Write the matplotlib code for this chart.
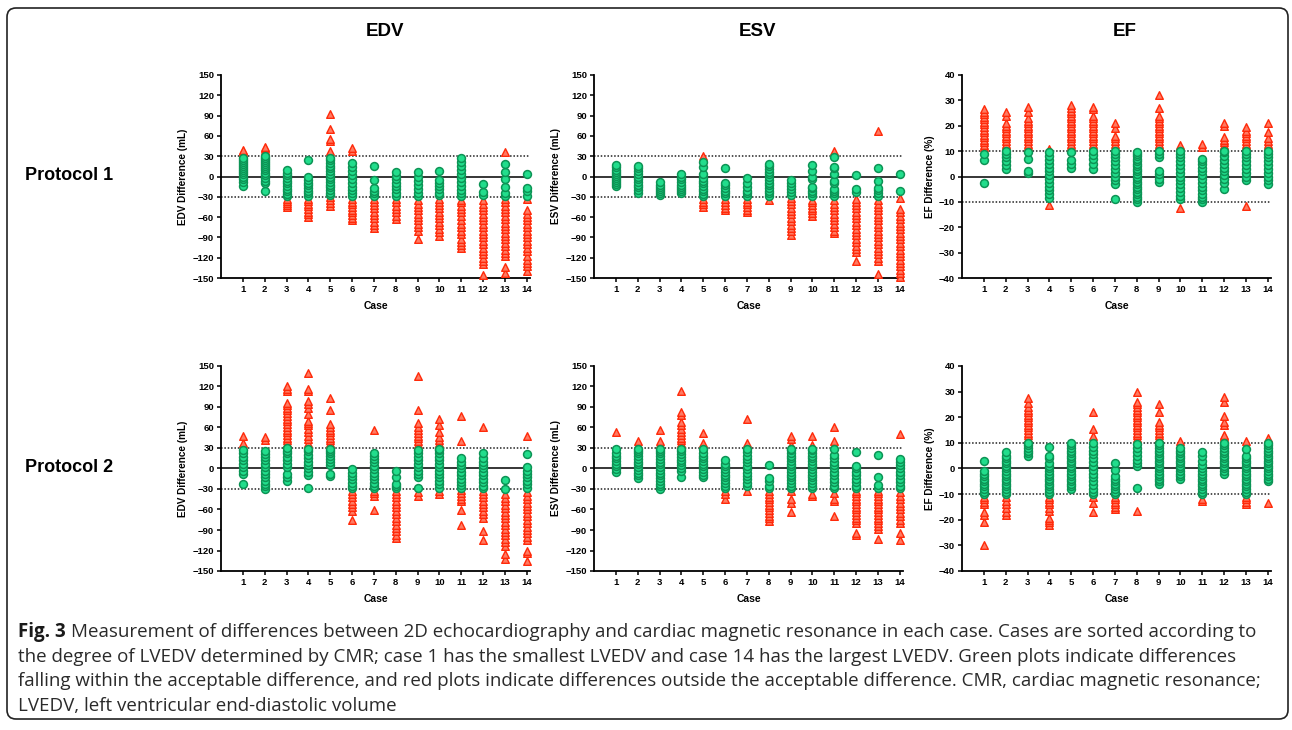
import matplotlib
matplotlib.use("Agg")
import matplotlib.pyplot as plt
import numpy as np
from matplotlib.patches import FancyBboxPatch

# --- data: per-case differences (echo - CMR) ---
cases = list(range(1, 15))

p1_edv = [
    [-14, -8, -3, 0, 3, 6, 9, 12, 15, 18, 22, 25, 28, 31, 33, 35, 37, 39],
    [-21, -10, -6, -2, 2, 5, 9, 12, 15, 18, 21, 24, 27, 30, 33, 36, 39, 42, 44],
    [-45, -42, -39, -36, -33, -29, -26, -22, -18, -14, -10, -6, -2, 2, 5, 9],
    [-60, -56, -52, -48, -44, -40, -36, -33, -29, -25, -21, -17, -13, -9, -5, -1, 24],
    [-43, -39, -35, -31, -28, -24, -20, -16, -12, -8, -4, 0, 4, 8, 12, 16, 20, 24, 28, 33, 38, 52, 55, 70, 92],
    [-65, -61, -57, -53, -49, -45, -41, -37, -33, -29, -25, -20, -15, -10, -4, 2, 8, 14, 20, 38, 42],
    [-76, -72, -67, -62, -57, -52, -47, -42, -37, -33, -29, -25, -21, -17, -5, 16],
    [-63, -58, -53, -48, -43, -38, -33, -29, -24, -19, -14, -9, -4, 1, 6],
    [-93, -80, -75, -70, -65, -60, -55, -50, -45, -40, -35, -29, -24, -18, -12, -6, 0, 6],
    [-88, -82, -77, -72, -67, -62, -57, -52, -47, -42, -37, -33, -28, -24, -19, -14, -9, -5, 8],
    [-105, -101, -97, -93, -85, -80, -75, -70, -64, -58, -53, -48, -43, -38, -34, -29, -25, -20, -14, -8, -2, 4, 10, 16, 22, 27],
    [-146, -130, -125, -120, -115, -110, -105, -100, -95, -90, -85, -80, -75, -70, -65, -60, -55, -50, -45, -40, -35, -28, -23, -11],
    [-142, -134, -118, -113, -108, -103, -98, -93, -88, -83, -78, -73, -68, -63, -58, -53, -48, -43, -38, -33, -29, -24, -15, -3, 6, 18, 36],
    [-140, -133, -128, -123, -118, -110, -105, -100, -95, -90, -85, -80, -75, -70, -65, -60, -55, -50, -33, -29, -22, -17, 4],
]

p1_esv = [
    [-14, -11, -8, -5, -2, 1, 4, 7, 10, 14, 17],
    [-24, -20, -16, -12, -8, -4, 0, 4, 8, 12, 16],
    [-28, -25, -22, -19, -16, -12, -8],
    [-25, -22, -19, -16, -12, -8, -4, 0, 4],
    [-45, -41, -37, -33, -29, -26, -22, -18, -14, -10, -6, -2, 3, 14, 22, 31],
    [-50, -46, -42, -38, -33, -29, -25, -21, -17, -13, -9, 12],
    [-53, -49, -45, -41, -37, -33, -29, -25, -21, -16, -10, -2],
    [-34, -29, -25, -21, -17, -13, -9, -5, -1, 3, 7, 11, 15, 18],
    [-86, -81, -76, -71, -66, -61, -56, -51, -46, -41, -36, -32, -27, -23, -19, -14, -9, -5],
    [-58, -54, -50, -46, -42, -38, -34, -29, -25, -21, -17, -15, -3, 0, 8, 17],
    [-84, -80, -75, -70, -65, -60, -55, -50, -45, -40, -35, -29, -25, -21, -18, -10, -7, 3, 12, 14, 29, 38],
    [-125, -112, -107, -102, -97, -92, -87, -82, -77, -72, -67, -62, -57, -52, -47, -42, -37, -33, -23, -18, 2],
    [-144, -125, -120, -115, -110, -105, -100, -95, -90, -85, -80, -75, -70, -65, -60, -55, -50, -45, -40, -35, -29, -25, -20, -17, -6, 12, 67],
    [-148, -143, -138, -133, -128, -123, -118, -113, -108, -103, -98, -93, -88, -83, -78, -73, -68, -63, -58, -53, -48, -32, -21, 4],
]

p1_ef = [
    [-2.7, 6.4, 9, 10.5, 11.5, 12.5, 13.5, 14.5, 15.5, 16.5, 17.5, 18.5, 19.5, 20.5, 21.5, 22.5, 23.5, 24.5, 25.5, 26.5],
    [3, 4.5, 6, 7.5, 9, 10, 11, 12, 13, 14, 15, 16, 17, 18, 19, 20, 21, 24, 25.5],
    [1.2, 2, 7, 9.5, 10.8, 12, 13, 14, 15, 16, 17, 18, 19, 20, 21, 22, 23, 25.5, 27.5],
    [-11.3, -8.5, -7, -5.5, -4, -2.5, -1, 0.5, 2, 3.5, 5, 6.5, 8, 9.5, 10.8],
    [3.5, 5, 6.5, 9.5, 10.8, 12, 13, 14, 15, 16, 17, 18, 19, 20, 21, 22, 23, 24, 25, 26, 27, 28],
    [3, 5, 7, 8.5, 10, 11, 12, 13, 14, 15, 16, 17, 18, 19, 20, 21, 22, 23, 24, 26.5, 27.5],
    [-9, -2.8, -1.5, 0, 1.5, 3, 4.5, 6, 7.5, 9, 10, 11.5, 13, 14, 15, 16, 19, 21],
    [-10, -9, -8, -7, -6, -5, -4, -3, -2, -1, 0, 1, 2, 3, 4, 5, 6, 7, 8, 9, 9.8],
    [-2, -1, 1, 2, 7.5, 9, 10, 11, 12, 13, 14, 15, 16, 17, 18, 19, 20, 21, 22, 23, 24, 27, 32],
    [-12.5, -9, -7.5, -6, -4.5, -3, -1.5, 0, 1.5, 3, 4.5, 6, 7.5, 9, 10, 12.5],
    [-10, -9, -8, -7, -5.5, -4, -2.5, -1, 0.5, 2, 3.5, 5, 6, 7, 11.5, 12.8],
    [-5, -2.5, -1, 0.5, 2, 3.5, 5, 6.5, 8, 9.5, 10, 11.5, 12.5, 13.5, 14.5, 15.5, 20, 21],
    [-11.5, -1.5, 0, 1.5, 3, 4.5, 6, 7.5, 9, 10, 11, 12, 13, 14, 15, 16, 17, 18, 19.5],
    [-3, -1.5, 0, 1.5, 3, 4.5, 6, 7.5, 9, 10, 11, 12, 13, 14, 15, 17.5, 21],
]

p2_edv = [
    [-22, -8, -3, 2, 7, 12, 17, 22, 27, 33, 37, 47],
    [-30, -26, -22, -18, -13, -8, -3, 2, 7, 12, 17, 21, 25, 41, 46],
    [-18, -13, -8, 2, 7, 12, 17, 22, 26, 30, 33, 37, 41, 45, 49, 53, 57, 61, 65, 69, 73, 77, 81, 85, 89, 93, 96, 113, 117, 121],
    [-29, -10, -5, 0, 5, 10, 15, 20, 25, 28, 33, 38, 43, 48, 53, 58, 63, 67, 70, 80, 88, 94, 99, 113, 116, 140],
    [-11, -8, 5, 10, 14, 18, 22, 26, 29, 33, 37, 41, 45, 49, 53, 57, 61, 65, 85, 103],
    [-76, -62, -57, -52, -47, -42, -37, -33, -29, -25, -21, -16, -11, -6, -1],
    [-61, -40, -36, -33, -29, -25, -21, -16, -11, -6, -1, 4, 9, 14, 18, 22, 57],
    [-101, -97, -92, -87, -82, -77, -72, -67, -62, -57, -52, -47, -42, -37, -33, -29, -26, -22, -13, -4],
    [-40, -35, -28, -12, -8, -3, 2, 7, 12, 17, 22, 27, 32, 36, 40, 44, 48, 52, 56, 61, 66, 86, 136],
    [-37, -33, -28, -23, -18, -13, -8, -3, 2, 7, 12, 17, 22, 27, 29, 33, 37, 41, 46, 53, 64, 73],
    [-82, -61, -48, -44, -40, -36, -32, -28, -24, -20, -15, -10, -5, 0, 5, 10, 15, 40, 77],
    [-105, -92, -72, -67, -62, -57, -52, -47, -42, -37, -33, -29, -25, -20, -15, -10, -5, 0, 5, 10, 15, 22, 60],
    [-132, -125, -113, -108, -103, -98, -93, -88, -83, -78, -73, -68, -63, -58, -53, -48, -43, -38, -30, -17],
    [-135, -124, -120, -105, -100, -95, -90, -85, -80, -75, -70, -65, -60, -55, -50, -45, -40, -35, -28, -23, -18, -13, -8, -3, 2, 21, 47],
]

p2_esv = [
    [-5, -1, 3, 7, 11, 15, 19, 23, 28, 54],
    [-14, -10, -6, -2, 2, 6, 10, 14, 18, 22, 26, 29, 40],
    [-30, -26, -22, -18, -14, -10, -6, -2, 2, 6, 10, 14, 18, 22, 26, 29, 33, 36, 40, 56],
    [-13, -3, 1, 5, 9, 13, 17, 21, 25, 29, 33, 37, 41, 45, 49, 53, 58, 63, 68, 78, 82, 114],
    [-12, -9, -5, -1, 3, 7, 11, 15, 19, 23, 28, 32, 35, 38, 52],
    [-44, -38, -33, -29, -25, -21, -17, -13, -9, -5, -1, 3, 7, 12],
    [-33, -25, -21, -16, -11, -6, -1, 4, 9, 14, 19, 24, 29, 32, 35, 38, 72],
    [-77, -73, -69, -65, -61, -57, -53, -49, -45, -41, -37, -33, -29, -25, -19, -14, 5],
    [-63, -50, -45, -33, -29, -25, -21, -17, -13, -9, -5, -1, 3, 7, 11, 15, 19, 23, 27, 29, 35, 43, 47],
    [-40, -37, -29, -25, -21, -17, -13, -9, -5, -1, 3, 7, 11, 15, 19, 23, 27, 29, 32, 35, 48],
    [-70, -48, -45, -36, -29, -25, -20, -15, -10, -5, 0, 5, 10, 15, 20, 29, 40, 60],
    [-97, -94, -80, -76, -72, -68, -64, -60, -56, -52, -48, -44, -40, -36, -33, -29, -25, -20, -15, -10, -5, 0, 3, 24],
    [-103, -88, -84, -80, -76, -72, -68, -64, -60, -56, -52, -48, -44, -40, -36, -33, -29, -24, -12, 20],
    [-104, -94, -80, -75, -70, -65, -60, -55, -50, -45, -40, -35, -29, -25, -20, -15, -10, -5, 0, 5, 10, 14, 50],
]

p2_ef = [
    [-30, -21, -18, -17, -14, -13, -12, -11, -10, -9, -8, -7, -6, -5, -4, -3, -2, -1, 3],
    [-18, -17, -15.5, -14, -12.5, -11, -10, -9, -8, -7, -6, -5, -4, -3, -2, -1, 0, 1, 2, 3, 4, 5, 6.5],
    [5, 6, 7, 8, 9, 10, 11, 12, 13, 14, 15, 16, 17, 18, 19, 20, 21, 22, 23, 24, 25.5, 27.5],
    [-22, -21, -20, -19.5, -16.5, -15.5, -14, -13, -12, -11, -10, -9, -8, -7, -6, -5, -4, -3, -2, -1, 0, 1, 2, 4, 5, 8.5],
    [-8, -7, -6, -5, -4, -3, -2, -1, 0, 1, 2, 3, 4, 5, 6, 7, 8, 9, 10],
    [-17, -13.5, -11, -10, -9, -8, -6.5, -5, -3.5, -2, -0.5, 1, 2.5, 4, 5.5, 7, 8.5, 10, 12.5, 15.5, 22],
    [-16, -15, -14, -13, -12, -11, -10, -9, -8, -7, -6, -5, -4, -3, -0.5, 2],
    [-16.5, -7.5, 1, 2, 3.5, 5, 6.5, 8, 9.5, 11, 12, 13, 14, 15, 16, 17, 18, 19, 20, 21, 22, 23, 24, 25, 26, 30],
    [-6, -5, -4, -3, -2, -1, 0, 1, 2, 3, 4, 5, 6, 7, 8, 9, 10, 11, 12, 13, 14, 15, 16, 17, 18, 22, 25],
    [-4, -3, -2, -1, 0, 1, 2, 3, 4, 5, 6, 7, 8, 10.8],
    [-12.5, -12, -10, -9, -8, -7, -6, -5, -4, -3, -2, -1, 0, 1.5, 3, 5, 6.5],
    [-2, -1, 0, 1, 2, 3, 4, 5, 6, 7, 8, 9, 10, 11, 11.8, 12.5, 13, 17, 18, 20.5, 26, 28],
    [-14, -13, -12, -11, -10, -9, -8, -7, -6, -5, -4, -3, -2, -1, 0, 1, 2, 3, 4, 5, 7.5, 10.8],
    [-13.5, -5, -4, -3, -2, -1, 0, 1, 2, 3, 4, 5, 6, 7, 8, 9, 10, 12],
]

col_titles = ["EDV", "ESV", "EF"]
row_titles = ["Protocol 1", "Protocol 2"]
ylabels = ["EDV Difference (mL)", "ESV Difference (mL)", "EF Difference (%)"]
limits = [30, 30, 10]   # acceptable difference

caption = [
    "Measurement of differences between 2D echocardiography and cardiac magnetic resonance in each case. Cases are sorted according to",
    "the degree of LVEDV determined by CMR; case 1 has the smallest LVEDV and case 14 has the largest LVEDV. Green plots indicate differences",
    "falling within the acceptable difference, and red plots indicate differences outside the acceptable difference. CMR, cardiac magnetic resonance;",
    "LVEDV, left ventricular end-diastolic volume",
]

W, H = 1292, 730
fig = plt.figure(figsize=(W / 100, H / 100), dpi=100)
plt.rcParams['font.family'] = ['Liberation Sans', 'DejaVu Sans']

GREEN_FC, GREEN_EC = '#22dd8c', '#0c9455'
RED_FC, RED_EC = '#ff7a62', '#ff2a0a'

panels = [[p1_edv, p1_esv, p1_ef], [p2_edv, p2_esv, p2_ef]]
col_left = [221, 594, 962]
row_top = [75, 366]
row_bot = [278, 571]
ax_w = 309

for r in range(2):
    for c in range(3):
        ax = fig.add_axes([col_left[c] / W, 1 - row_bot[r] / H, ax_w / W, (row_bot[r] - row_top[r]) / H])
        lim = limits[c]
        data = panels[r][c]
        for x, vals in zip(cases, data):
            v = np.array(vals, dtype=float)
            ok = np.abs(v) <= lim
            ax.scatter(np.full((~ok).sum(), x), v[~ok], marker='^', s=30, facecolor=RED_FC,
                       edgecolor=RED_EC, linewidth=1.0, zorder=3, clip_on=False)
            ax.scatter(np.full(ok.sum(), x), v[ok], marker='o', s=32, facecolor=GREEN_FC,
                       edgecolor=GREEN_EC, linewidth=1.1, zorder=4, clip_on=False)
        ax.plot([0, 14.1], [0, 0], color='black', lw=1.1, zorder=2)
        ax.plot([0, 14.1], [lim, lim], color='#222222', lw=1.1, ls=(0, (1, 1.2)), zorder=2)
        ax.plot([0, 14.1], [-lim, -lim], color='#222222', lw=1.1, ls=(0, (1, 1.2)), zorder=2)

        ax.set_xlim(0, 14.15)
        if c < 2:
            ax.set_ylim(-150, 150)
            ax.set_yticks(np.arange(-150, 151, 30))
        else:
            ax.set_ylim(-40, 40)
            ax.set_yticks(np.arange(-40, 41, 10))
        ax.set_xticks(cases)
        ax.set_xticklabels([str(k) for k in cases])
        for lab in ax.get_xticklabels() + ax.get_yticklabels():
            lab.set_fontweight('bold')
        ax.tick_params(labelsize=6.8, length=3, width=1.1, pad=2, direction='out')
        ax.spines['top'].set_visible(False)
        ax.spines['right'].set_visible(False)
        ax.spines['left'].set_linewidth(1.3)
        ax.spines['bottom'].set_linewidth(1.3)
        ax.set_facecolor('none')
        ax.set_ylabel(ylabels[c], fontsize=7.2, fontweight='bold', labelpad=3)
        ax.set_xlabel("Case", fontsize=7.5, fontweight='bold', labelpad=5)

for c, x in enumerate([385, 758, 1125]):
    fig.text(x / W, 1 - 32 / H, col_titles[c], fontsize=13.5, fontweight='bold', ha='center', va='center')
for r, y in enumerate([175, 467]):
    fig.text(25 / W, 1 - y / H, row_titles[r], fontsize=13, fontweight='bold', ha='left', va='center')

# caption
cap_font = ['Open Sans', 'DejaVu Sans']
cap_size = 13.5
lead = fig.text(18 / W, 1 - 632 / H, "Fig. 3", fontsize=cap_size, fontweight='bold', family=cap_font,
                ha='left', va='center', color='#1a1a1a')
renderer = fig.canvas.get_renderer()
bb = lead.get_window_extent(renderer)
fig.text((bb.x1 + 5) / W, 1 - 632 / H, caption[0], fontsize=cap_size, family=cap_font,
         ha='left', va='center', color='#2a2a2a')
for i, line in enumerate(caption[1:]):
    fig.text(18 / W, 1 - (657 + 24.5 * i) / H, line, fontsize=cap_size, family=cap_font,
             ha='left', va='center', color='#2a2a2a')

frame = FancyBboxPatch((0.07, 0.11), 12.81, 7.11, boxstyle='round,pad=0,rounding_size=0.09',
                       transform=fig.dpi_scale_trans, fill=False, ec='#222222', lw=1.2)
fig.patches.append(frame)

fig.savefig("out.png", dpi=100)
